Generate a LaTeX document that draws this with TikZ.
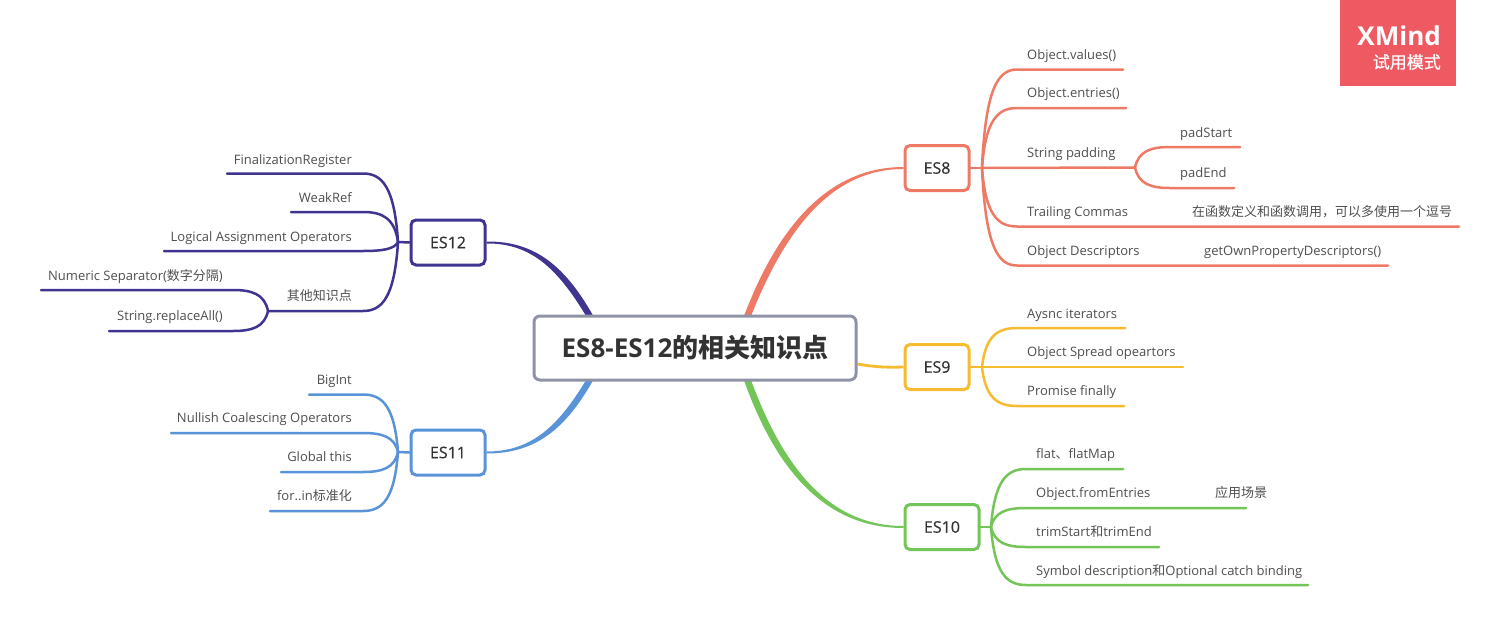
\documentclass[tikz,border=0pt]{standalone}
\usepackage{fontspec}
\setmainfont{Open Sans}
\newfontfamily\cjk{Noto Sans CJK SC}
\newfontfamily\semib[FakeBold=0.5]{Open Sans}
\newfontfamily\cjkm[FakeBold=0.5]{Noto Sans CJK SC}
\usetikzlibrary{backgrounds,calc}
\definecolor{cred}{HTML}{EE7A66}
\definecolor{cyel}{HTML}{F5BC2F}
\definecolor{cgrn}{HTML}{73C557}
\definecolor{cblu}{HTML}{5A94D8}
\definecolor{cpur}{HTML}{3F3490}
\definecolor{ctxt}{HTML}{4F4F4F}
\definecolor{cwm}{HTML}{EF5A62}
\definecolor{crootb}{HTML}{8F93A6}
\tikzset{
 lbl/.style={font=\fontsize{13}{15}\selectfont,text=ctxt,inner sep=0pt,text height=12pt,text depth=3pt},
 lblR/.style={lbl,anchor=west},
 lblL/.style={lbl,anchor=east},
 topic/.style={draw=#1,line width=3pt,rounded corners=5pt,fill=white,minimum height=45pt,inner sep=0pt,text=black!80,font=\fontsize{16}{18}\selectfont\semib},
 link/.style={draw=#1,line width=2.5pt,line cap=round},
}
% \leafline{colour}{hub name}{hub x}{hub y}{leaf y}{bend x}{end x}{end name}
\newcommand\leafline[8]{%
 \pgfmathsetmacro\ca{#3+(#6-#3)*0.10}%
 \pgfmathsetmacro\cb{#4+(#5-#4)*0.80}%
 \pgfmathsetmacro\cc{#3+(#6-#3)*0.45}%
 \coordinate (#8) at (#7,#5);
 \draw[link=#1] (#2) .. controls (\ca,\cb) and (\cc,#5) .. (#6,#5) -- (#8);
}
\begin{document}
\begin{tikzpicture}[x=1pt,y=-1pt]
\useasboundingbox (0,0) rectangle (1500,627);
% watermark
\fill[cwm] (1340,0) rectangle (1456,86);
\node[anchor=east,inner sep=0pt,text=white,font=\fontsize{26}{28}\selectfont\bfseries] (wm1) at (1441,36) {XMind};
\node[anchor=east,inner sep=0pt,text=white,font=\fontsize{17}{19}\selectfont\cjkm] (wm2) at (1441,62) {试用模式};
% root and main topics
\node[draw=crootb,line width=3pt,rounded corners=6pt,fill=white,minimum width=322pt,minimum height=64pt,inner sep=0pt,text=black!80,font=\fontsize{26}{30}\selectfont\bfseries] (root) at (695,348) {ES8-ES12{\cjk 的相关知识点}};
\node[topic=cred,minimum width=64pt] (es8) at (937,168) {ES8};
\node[topic=cyel,minimum width=64pt] (es9) at (937,367) {ES9};
\node[topic=cgrn,minimum width=74pt] (es10) at (942,527) {ES10};
\node[topic=cpur,minimum width=74pt] (es12) at (448,242.5) {ES12};
\node[topic=cblu,minimum width=74pt] (es11) at (448,452.5) {ES11};
% hubs
\coordinate (h8) at (982,168);
\coordinate (hp) at (1135,167.5);
\coordinate (h9) at (982,367);
\coordinate (h10) at (991,527);
\coordinate (h12) at (398,242);
\coordinate (ho) at (268,311);
\coordinate (h11) at (398,452);
% ES8 labels
\node[lblR] (a1) at (1027,54.5) {Object.values()};
\node[lblR] (a2) at (1027,93) {Object.entries()};
\node[lblR] (a3) at (1027,152.5) {String padding};
\node[lblR] (a31) at (1180,132.5) {padStart};
\node[lblR] (a32) at (1180,173) {padEnd};
\node[lblR] (a4) at (1027,212) {Trailing Commas};
\node[lblR,font=\fontsize{13}{15}\selectfont\cjk] (a41) at (1192,212) {在函数定义和函数调用，可以多使用一个逗号};
\node[lblR] (a5) at (1027,250.5) {Object Descriptors};
\node[lblR] (a51) at (1204,250.5) {getOwnPropertyDescriptors()};
% ES9 labels
\node[lblR] (b1) at (1027,313.5) {Aysnc iterators};
\node[lblR] (b2) at (1027,352) {Object Spread opeartors};
\node[lblR] (b3) at (1027,391) {Promise finally};
% ES10 labels
\node[lblR] (c1) at (1036,454) {flat{\cjk 、}flatMap};
\node[lblR] (c2) at (1036,492.5) {Object.fromEntries};
\node[lblR,font=\fontsize{13}{15}\selectfont\cjk] (c21) at (1215,492.5) {应用场景};
\node[lblR] (c3) at (1036,531.5) {trimStart{\cjk 和}trimEnd};
\node[lblR] (c4) at (1036,570.5) {Symbol description{\cjk 和}Optional catch binding};
% ES12 labels
\node[lblL] (d1) at (352,159.5) {FinalizationRegister};
\node[lblL] (d2) at (352,198) {WeakRef};
\node[lblL] (d3) at (352,237) {Logical Assignment Operators};
\node[lblL,font=\fontsize{13}{15}\selectfont\cjk] (d4) at (352,296) {其他知识点};
\node[lblL] (d41) at (223,275.5) {Numeric Separator({\cjk 数字分隔})};
\node[lblL] (d42) at (223,316) {String.replaceAll()};
% ES11 labels
\node[lblL] (e1) at (352,379.5) {BigInt};
\node[lblL] (e2) at (352,418) {Nullish Coalescing Operators};
\node[lblL] (e3) at (352,457) {Global this};
\node[lblL] (e4) at (352,496) {for..in{\cjk 标准化}};
\begin{scope}[on background layer]
 \fill[white] (0,0) rectangle (1500,627);
 % tapered main branches
 \coordinate (r8) at (746,320);
 \coordinate (r10) at (746,376);
 \coordinate (r12) at (592,320);
 \coordinate (r11) at (592,376);
 \fill[cred] ($(r8)+(-3.5,0)$) .. controls (775,232) and (825,167) .. ($(es8.west)+(0,-1)$) -- ($(es8.west)+(0,1)$) .. controls (828,169) and (782,236) .. ($(r8)+(3.5,0)$) -- cycle;
 \fill[cgrn] ($(r10)+(-3.5,0)$) .. controls (775,470) and (825,528) .. ($(es10.west)+(0,1)$) -- ($(es10.west)+(0,-1)$) .. controls (828,526) and (782,466) .. ($(r10)+(3.5,0)$) -- cycle;
 \fill[cpur] ($(r12)+(3.5,0)$) .. controls (566,266) and (535,241) .. ($(es12.east)+(0,-1)$) -- ($(es12.east)+(0,1)$) .. controls (532,243) and (559,270) .. ($(r12)+(-3.5,0)$) -- cycle;
 \fill[cblu] ($(r11)+(3.5,0)$) .. controls (566,430) and (535,453.5) .. ($(es11.east)+(0,1)$) -- ($(es11.east)+(0,-1)$) .. controls (532,451.5) and (559,426) .. ($(r11)+(-3.5,0)$) -- cycle;
 \draw[cyel,line width=2.8pt] (root.east|-0,364) .. controls (875,367) and (885,367.5) .. (es9.west);
 % hub stems
 \draw[link=cred] (es8.east) -- (h8);
 \draw[link=cyel] (es9.east) -- (h9);
 \draw[link=cgrn] (es10.east) -- (h10);
 \draw[link=cpur] (es12.west) -- (h12);
 \draw[link=cblu] (es11.west) -- (h11);
 % ES8 leaves
 \leafline{cred}{h8}{982}{168}{69.5}{1017}{1123}{a1e}
 \leafline{cred}{h8}{982}{168}{108}{1017}{1126}{a2e}
 \draw[link=cred] (h8) -- (hp);
 \leafline{cred}{hp}{1135}{167.5}{147}{1170}{1240}{a31e}
 \leafline{cred}{hp}{1135}{167.5}{188}{1170}{1234}{a32e}
 \leafline{cred}{h8}{982}{168}{226.5}{1017}{1459}{a4e}
 \leafline{cred}{h8}{982}{168}{265.5}{1017}{1388}{a5e}
 % ES9 leaves
 \leafline{cyel}{h9}{982}{367}{328}{1017}{1125}{b1e}
 \coordinate (b2e) at (1183,367);
 \draw[link=cyel] (h9) -- (b2e);
 \leafline{cyel}{h9}{982}{367}{406}{1017}{1124}{b3e}
 % ES10 leaves
 \leafline{cgrn}{h10}{991}{527}{469}{1026}{1123}{c1e}
 \leafline{cgrn}{h10}{991}{527}{508}{1026}{1246}{c2e}
 \leafline{cgrn}{h10}{991}{527}{547}{1026}{1159}{c3e}
 \leafline{cgrn}{h10}{991}{527}{585}{1026}{1308}{c4e}
 % ES12 leaves
 \leafline{cpur}{h12}{398}{242}{173.5}{363}{227}{d1e}
 \leafline{cpur}{h12}{398}{242}{212}{363}{291}{d2e}
 \leafline{cpur}{h12}{398}{242}{251}{363}{164}{d3e}
 \leafline{cpur}{h12}{398}{242}{311}{363}{268}{d4e}
 \leafline{cpur}{ho}{268}{311}{290}{233}{41}{d41e}
 \leafline{cpur}{ho}{268}{311}{331}{233}{109}{d42e}
 % ES11 leaves
 \leafline{cblu}{h11}{398}{452}{394.5}{363}{309}{e1e}
 \leafline{cblu}{h11}{398}{452}{433}{363}{171}{e2e}
 \leafline{cblu}{h11}{398}{452}{472}{363}{281}{e3e}
 \leafline{cblu}{h11}{398}{452}{511}{363}{270}{e4e}
\end{scope}
\end{tikzpicture}
\end{document}
